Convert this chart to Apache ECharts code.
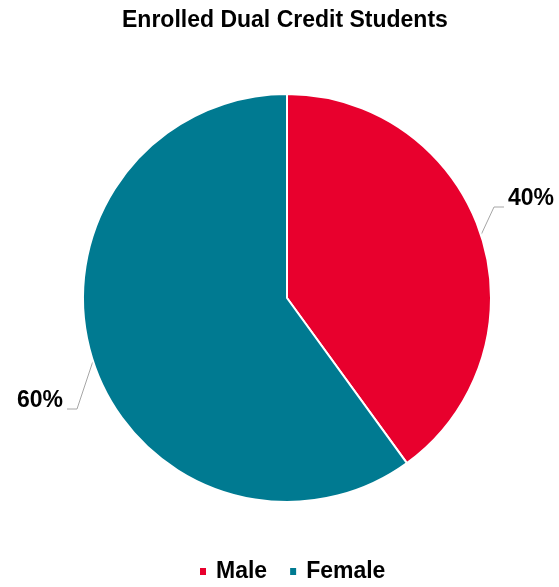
<!DOCTYPE html>
<html>
<head>
<meta charset="utf-8">
<script src="https://cdn.jsdelivr.net/npm/echarts@6/dist/echarts.min.js"></script>
<style>
html,body{margin:0;padding:0;background:#fff;}
#chart{width:559px;height:587px;}
</style>
</head>
<body>
<div id="chart"></div>
<script>
const titleText = 'Enrolled Dual Credit Students';
const categories = ['Male', 'Female'];
const values = [40, 60];
const colors = ['#E8002D', '#007A91'];

const chart = echarts.init(document.getElementById('chart'), null, {renderer: 'canvas'});
const FONT = 'Liberation Sans, Arial, sans-serif';

const labelPos = [
  {x: 504, y: 191, align: 'left'},
  {x: 67, y: 393, align: 'right'}
];

chart.setOption({
  animation: false,
  backgroundColor: '#fff',
  title: {
    text: titleText,
    left: 122,
    top: 9,
    padding: 0,
    textStyle: {fontFamily: FONT, fontSize: 23, fontWeight: 'bold', color: '#000'}
  },
  legend: {
    data: categories,
    left: 198,
    top: 560,
    padding: 0,
    icon: 'rect',
    itemWidth: 8,
    itemHeight: 9,
    itemGap: 21,
    textStyle: {fontFamily: FONT, fontSize: 23, fontWeight: 'bold', color: '#000', padding: [0, 0, 0, 4]}
  },
  series: [{
    type: 'pie',
    center: [287, 298],
    radius: 204,
    startAngle: 90,
    clockwise: true,
    color: colors,
    itemStyle: {borderColor: '#fff', borderWidth: 2},
    label: {
      show: true,
      formatter: '{d}%\n ',
      fontFamily: FONT,
      fontSize: 23,
      lineHeight: 16,
      fontWeight: 'bold',
      color: '#000',
      overflow: 'none',
      padding: [0, 4, 0, 4]
    },
    labelLine: {
      show: true,
      length: 10,
      length2: 10,
      lineStyle: {color: '#A6A6A6', width: 1}
    },
    labelLayout: function (params) {
      const p = labelPos[params.dataIndex];
      return {x: p.x, y: p.y, align: p.align, verticalAlign: 'top', width: 70};
    },
    emphasis: {disabled: true},
    data: categories.map((c, i) => ({name: c, value: values[i]}))
  }]
});
</script>
</body>
</html>
